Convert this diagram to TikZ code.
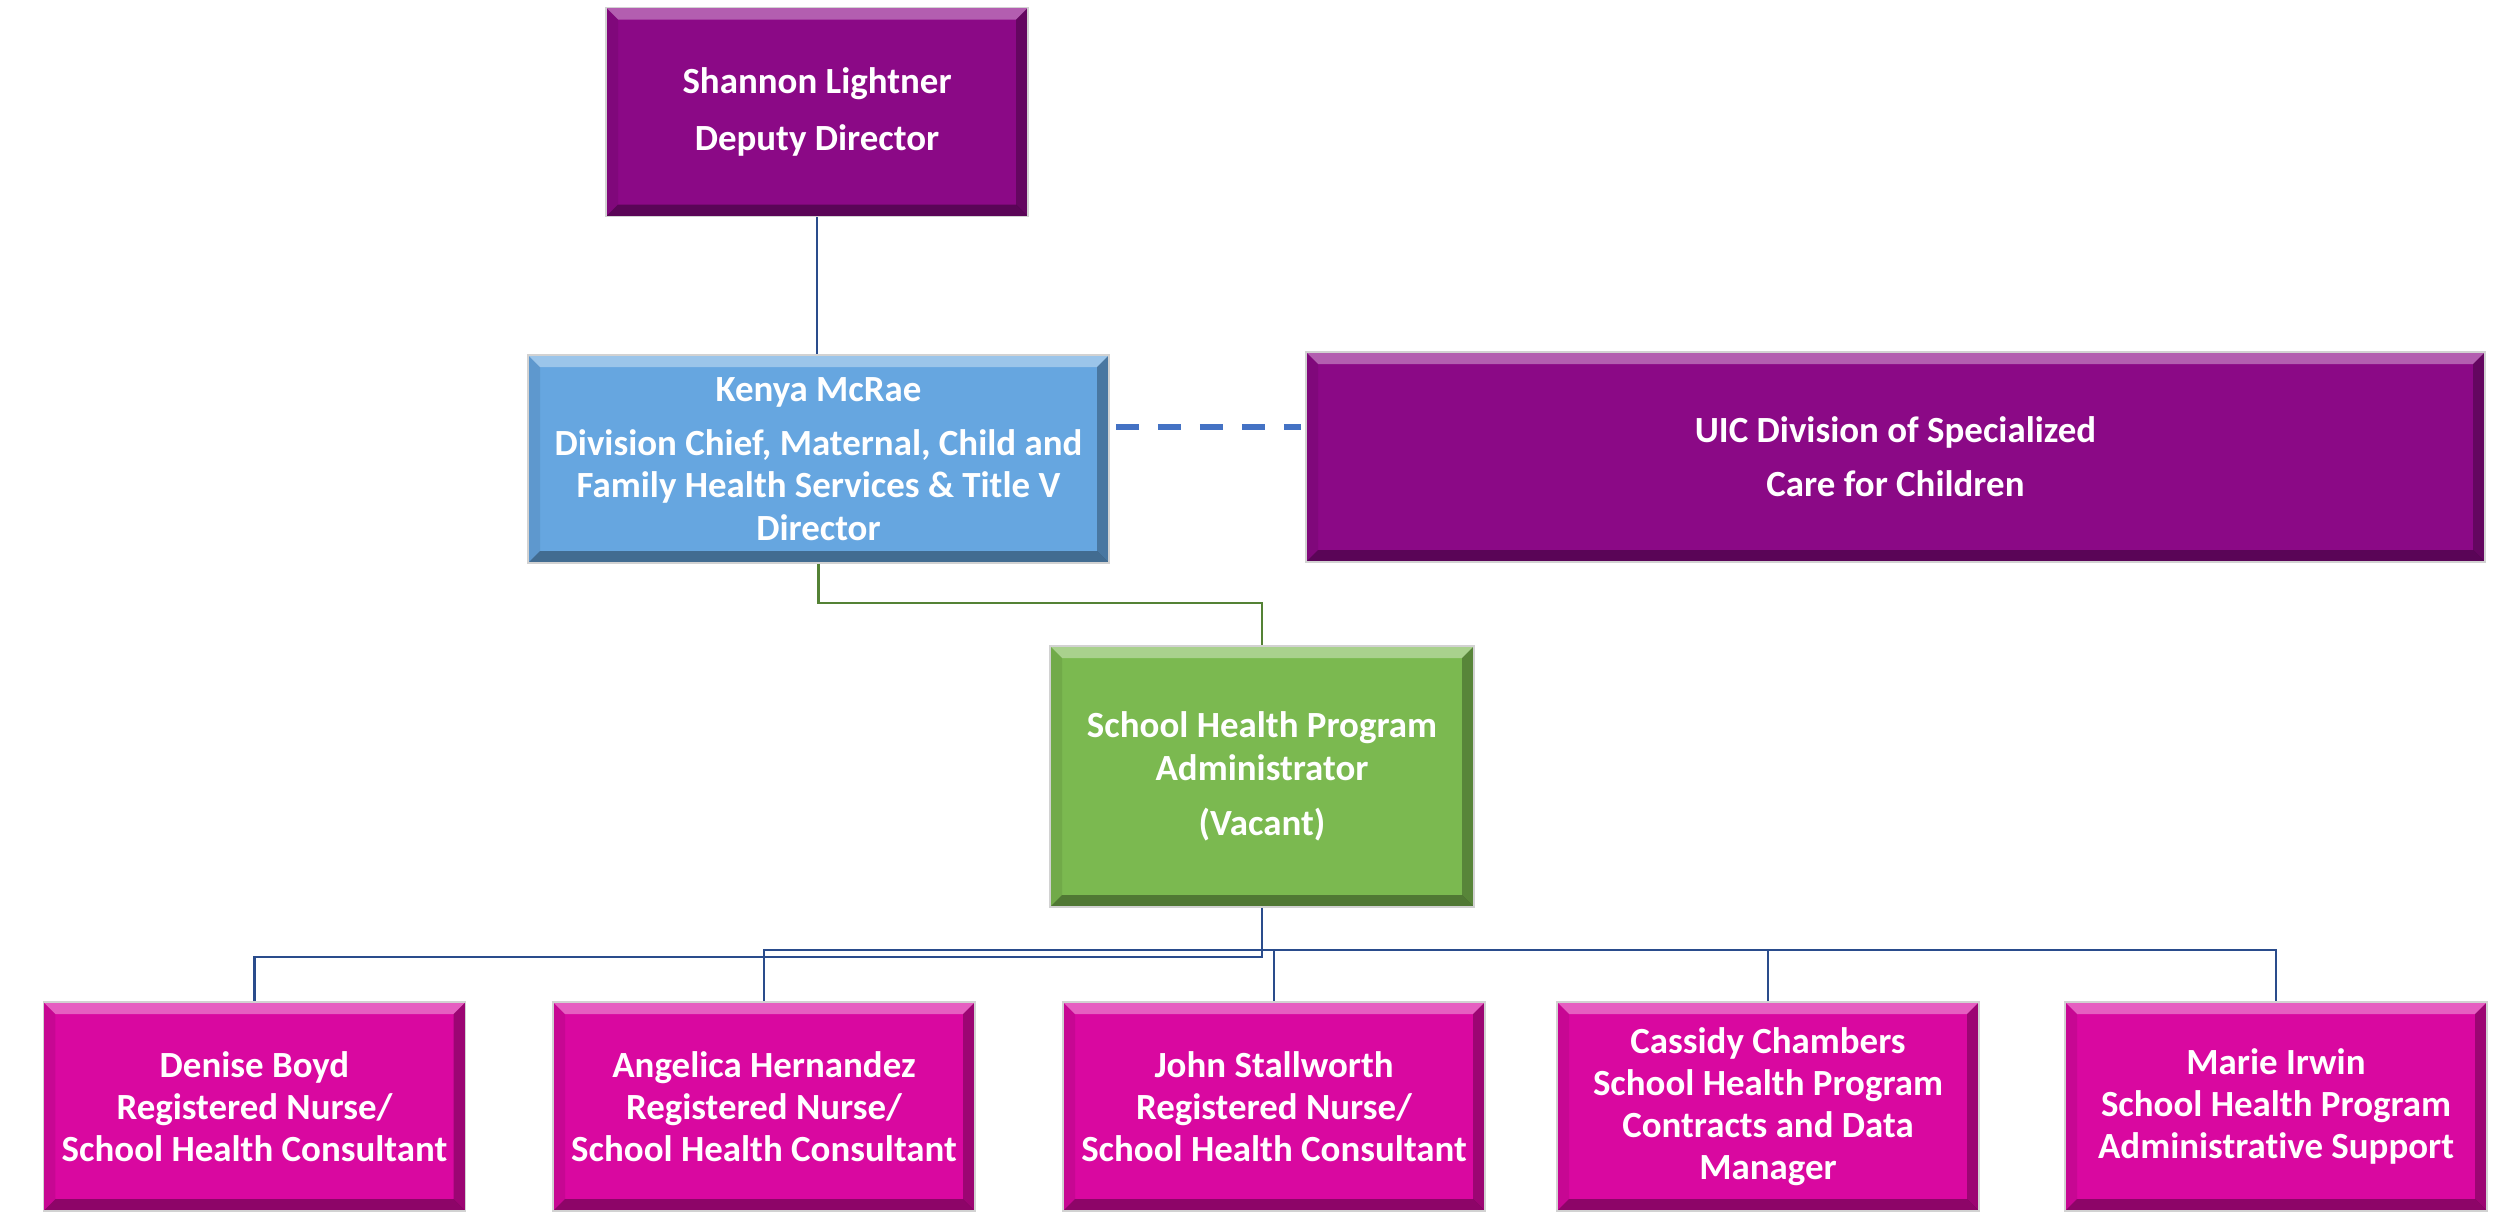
\documentclass[tikz,border=0pt]{standalone}
\usepackage{fontspec}
\setmainfont{Carlito}[Ligatures=NoCommon]
\usepackage{xcolor}
\usepackage{tikz}
\usetikzlibrary{positioning,calc}

\definecolor{plum}{RGB}{139,9,134}
\definecolor{sky}{RGB}{102,166,224}
\definecolor{leaf}{RGB}{123,185,80}
\definecolor{rose}{RGB}{217,8,160}
\definecolor{navy}{RGB}{42,76,140}
\definecolor{moss}{RGB}{84,130,53}
\definecolor{dashblue}{RGB}{68,114,196}

% raised box look
\tikzset{
  bevel/.style={path picture={
    \def\bw{0.12}
    \path (path picture bounding box.north west) coordinate (bnw)
          (path picture bounding box.north east) coordinate (bne)
          (path picture bounding box.south west) coordinate (bsw)
          (path picture bounding box.south east) coordinate (bse);
    \fill[white,opacity=0.35] (bnw) -- (bne) -- ([shift={(-\bw,-\bw)}]bne) -- ([shift={(\bw,-\bw)}]bnw) -- cycle;
    \fill[black,opacity=0.35] (bsw) -- (bse) -- ([shift={(-\bw,\bw)}]bse) -- ([shift={(\bw,\bw)}]bsw) -- cycle;
    \fill[black,opacity=0.28] (bne) -- (bse) -- ([shift={(-\bw,\bw)}]bse) -- ([shift={(-\bw,-\bw)}]bne) -- cycle;
    \fill[black,opacity=0.08] (bnw) -- (bsw) -- ([shift={(\bw,\bw)}]bsw) -- ([shift={(\bw,-\bw)}]bnw) -- cycle;
  }}
}

\begin{document}
\begin{tikzpicture}[font=\bfseries\fontsize{10.5}{12}\selectfont,
  box/.style={draw=gray!35,line width=0.5pt,text=white,align=center,inner sep=0pt,
              minimum width=4.22cm,minimum height=2.09cm,bevel},
  link/.style={draw=navy,line width=0.8pt},
  feed/.style={draw=moss,line width=0.7pt},
  partner/.style={draw=dashblue,line width=1.7pt,dash pattern=on 0.23cm off 0.19cm},
]
  \useasboundingbox (0,0) rectangle (25.09,-12.18);

  % management
  \node[box,fill=plum] (deputy) at (8.17,-1.12) {Shannon Lightner\\[4pt]Deputy Director};
  \node[box,fill=sky,minimum width=5.81cm,minimum height=2.08cm] (chief) at (8.185,-4.59)
    {Kenya McRae\\[3.4pt]Division Chief, Maternal, Child and\\Family Health Services \& Title V\\Director};
  \node[box,fill=plum,minimum width=11.79cm,minimum height=2.10cm] (uic) at (18.955,-4.57)
    {UIC Division of Specialized\\[3.4pt]Care for Children};
  \node[box,fill=leaf,minimum width=4.24cm,minimum height=2.61cm] (admin) at (12.62,-7.765)
    {School Health Program\\Administrator\\[3.7pt](Vacant)};

  % staff
  \foreach \i/\x/\txt in {1/2.545/{Denise Boyd\\Registered Nurse/\\School Health Consultant},
                          2/7.64/{Angelica Hernandez\\Registered Nurse/\\School Health Consultant},
                          3/12.74/{John Stallworth\\Registered Nurse/\\School Health Consultant},
                          4/17.68/{Cassidy Chambers\\School Health Program\\Contracts and Data\\Manager},
                          5/22.76/{Marie Irwin\\School Health Program\\Administrative Support}} {
    \node[box,fill=rose] (staff\i) at (\x,-11.065) {\txt};
  }

  % reporting lines
  \draw[link] (deputy.south) -- (deputy.south |- chief.north);
  \draw[feed] (chief.south) -- ++(0,-0.39) -| (admin.north);
  \draw[partner,shorten <=0.06cm,shorten >=0.04cm] ([yshift=0.32cm]chief.east) -- ([yshift=0.32cm]chief.east -| uic.west);

  \coordinate (lowbus) at (0,-9.57);
  \coordinate (highbus) at (0,-9.50);
  \draw[link] (admin.south) -- (admin.south |- lowbus) -| (staff1.north);
  \draw[link] (staff2.north) |- (highbus -| staff5.north) -- (staff5.north);
  \foreach \i in {3,4}
    \draw[link] (staff\i.north) -- (staff\i.north |- highbus);
\end{tikzpicture}
\end{document}
